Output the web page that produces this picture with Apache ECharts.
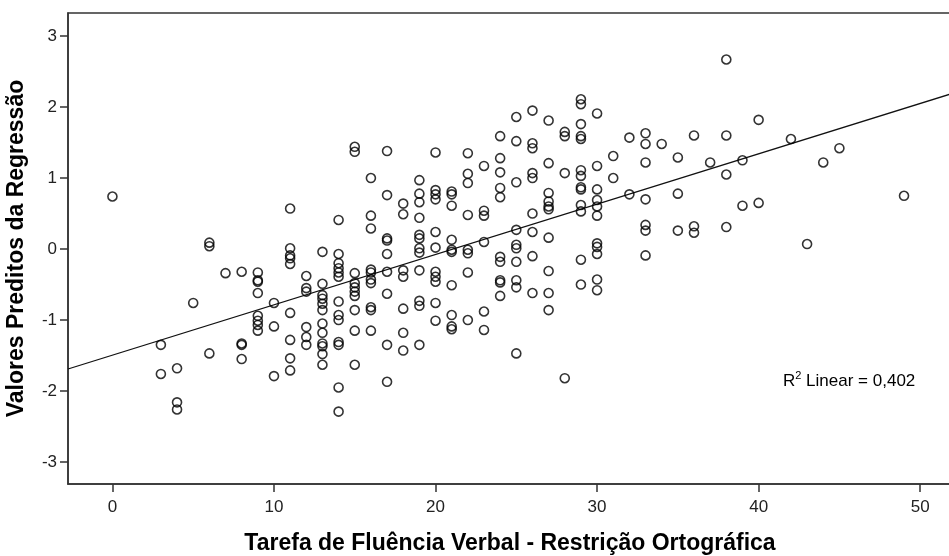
<!DOCTYPE html>
<html>
<head>
<meta charset="utf-8">
<script src="https://cdn.jsdelivr.net/npm/echarts@6/dist/echarts.min.js"></script>
<style>html,body{margin:0;padding:0;background:#fff;}#c{width:949px;height:556px;}</style>
</head>
<body>
<div id="c"></div>
<script>
// Scores (x) and the predicted values observed at each score (y)
const scoreValues = [0, 3, 4, 5, 6, 7, 8, 9, 10, 11, 12, 13, 14, 15, 16, 17, 18, 19, 20, 21, 22, 23, 24, 25, 26, 27, 28, 29, 30, 31, 32, 33, 34, 35, 36, 37, 38, 39, 40, 42, 43, 44, 45, 49];
const predictedByScore = [
  [0.74],
  [-1.35, -1.76],
  [-1.68, -2.16, -2.26],
  [-0.76],
  [0.09, 0.04, -1.47],
  [-0.34],
  [-0.32, -1.33, -1.35, -1.55],
  [-0.33, -0.44, -0.46, -0.62, -0.94, -1.01, -1.07, -1.15],
  [-0.76, -1.09, -1.79],
  [0.57, 0.01, -0.09, -0.13, -0.21, -0.90, -1.28, -1.54, -1.71],
  [-0.38, -0.55, -0.60, -1.10, -1.24, -1.35],
  [-0.04, -0.49, -0.65, -0.70, -0.77, -0.86, -1.05, -1.18, -1.33, -1.37, -1.48, -1.63],
  [0.41, -0.07, -0.20, -0.27, -0.33, -0.39, -0.74, -0.93, -1.00, -1.31, -1.35, -1.95, -2.29],
  [1.44, 1.37, -0.34, -0.48, -0.54, -0.60, -0.66, -0.86, -1.15, -1.63],
  [1.00, 0.47, 0.29, -0.29, -0.33, -0.43, -0.48, -0.82, -0.86, -1.15],
  [1.38, 0.76, 0.15, 0.12, -0.07, -0.32, -0.63, -1.35, -1.87],
  [0.64, 0.49, -0.30, -0.39, -0.84, -1.18, -1.43],
  [0.97, 0.78, 0.66, 0.44, 0.20, 0.15, 0.01, -0.05, -0.30, -0.73, -0.80, -1.35],
  [1.36, 0.83, 0.77, 0.70, 0.24, 0.02, -0.32, -0.39, -0.46, -0.76, -1.01],
  [0.81, 0.77, 0.61, 0.13, -0.01, -0.04, -0.51, -0.93, -1.09, -1.13],
  [1.35, 1.06, 0.93, 0.48, -0.01, -0.06, -0.33, -1.00],
  [1.17, 0.54, 0.47, 0.10, -0.88, -1.14],
  [1.59, 1.28, 1.08, 0.86, 0.73, -0.11, -0.18, -0.44, -0.47, -0.66],
  [1.86, 1.52, 0.94, 0.27, 0.06, 0.01, -0.18, -0.44, -0.54, -1.47],
  [1.95, 1.49, 1.42, 1.07, 1.00, 0.50, 0.24, -0.10, -0.62],
  [1.81, 1.21, 0.79, 0.67, 0.60, 0.56, 0.16, -0.31, -0.62, -0.86],
  [1.65, 1.59, 1.07, -1.82],
  [2.11, 2.04, 1.76, 1.59, 1.55, 1.11, 1.03, 0.87, 0.84, 0.62, 0.53, -0.15, -0.50],
  [1.91, 1.17, 0.84, 0.69, 0.60, 0.47, 0.08, 0.03, -0.07, -0.43, -0.58],
  [1.31, 1.00],
  [1.57, 0.77],
  [1.63, 1.48, 1.22, 0.70, 0.34, 0.26, -0.09],
  [1.48],
  [1.29, 0.78, 0.26],
  [1.60, 0.32, 0.23],
  [1.22],
  [2.67, 1.60, 1.05, 0.31],
  [1.25, 0.61],
  [1.82, 0.65],
  [1.55],
  [0.07],
  [1.22],
  [1.42],
  [0.75]
];
const xTicks = [0, 10, 20, 30, 40, 50];
const yTicks = [-3, -2, -1, 0, 1, 2, 3];
const fitIntercept = -1.495;
const fitSlope = 0.0709;
const xRange = [-2.75, 51.97];
const yRange = [-3.31, 3.325];

const points = [];
scoreValues.forEach((s, i) => predictedByScore[i].forEach(v => points.push([s, v])));
const fitLine = xRange.map(x => [x, fitIntercept + fitSlope * x]);

const FONT = "'Liberation Sans', Arial, sans-serif";
const chart = echarts.init(document.getElementById('c'), null, {renderer: 'canvas'});
chart.setOption({
  backgroundColor: '#ffffff',
  animation: false,
  grid: {left: 68, top: 13, right: -3, bottom: 72, outerBoundsMode: 'none', containLabel: false,
         show: true, borderColor: '#333', borderWidth: 1.5, backgroundColor: 'transparent'},
  xAxis: {
    type: 'value', min: xRange[0], max: xRange[1],
    name: 'Tarefa de Fluência Verbal - Restrição Ortográfica',
    nameLocation: 'middle', nameGap: 48,
    nameTextStyle: {fontFamily: FONT, fontSize: 23, fontWeight: 'bold', color: '#000'},
    axisLine: {show: true, onZero: false, lineStyle: {color: '#333', width: 1.5}},
    axisTick: {show: true, length: 8, customValues: xTicks, lineStyle: {color: '#333', width: 1.5}},
    axisLabel: {customValues: xTicks, fontFamily: FONT, fontSize: 17, color: '#222', margin: 15},
    splitLine: {show: false}
  },
  yAxis: {
    type: 'value', min: yRange[0], max: yRange[1],
    name: 'Valores Preditos da Regressão',
    nameLocation: 'middle', nameGap: 40,
    nameTextStyle: {fontFamily: FONT, fontSize: 23, fontWeight: 'bold', color: '#000'},
    axisLine: {show: true, onZero: false, lineStyle: {color: '#333', width: 1.5}},
    axisTick: {show: true, length: 8, customValues: yTicks, lineStyle: {color: '#333', width: 1.5}},
    axisLabel: {customValues: yTicks, fontFamily: FONT, fontSize: 17, color: '#222', margin: 11},
    splitLine: {show: false}
  },
  series: [
    {
      type: 'line', data: fitLine, showSymbol: false, silent: true,
      lineStyle: {color: '#111', width: 1.3}, z: 1
    },
    {
      type: 'scatter', data: points, symbol: 'circle', symbolSize: 9,
      itemStyle: {color: 'rgba(255,255,255,0)', borderColor: '#000', borderWidth: 1.6},
      z: 2
    }
  ],
  graphic: [{
    type: 'text', left: 783, top: 370,
    style: {
      text: '{a|R}{s|2}{a| Linear = 0,402}',
      rich: {
        a: {fontFamily: FONT, fontSize: 17, fill: '#000', verticalAlign: 'bottom', lineHeight: 20},
        s: {fontFamily: FONT, fontSize: 11, fill: '#000', verticalAlign: 'top', lineHeight: 20, padding: [0,0,8,0]}
      }
    }
  }]
});
</script>
</body>
</html>
